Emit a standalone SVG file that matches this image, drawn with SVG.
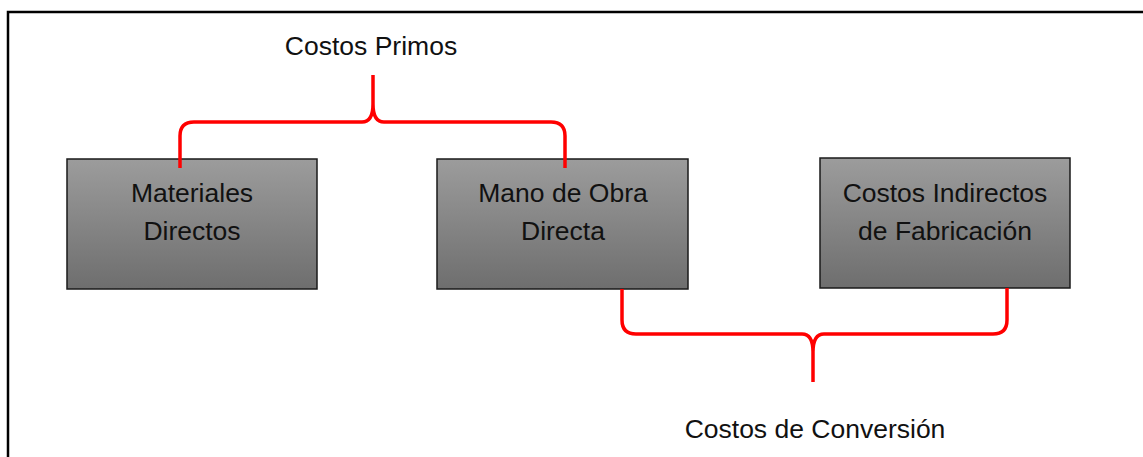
<svg xmlns="http://www.w3.org/2000/svg" width="1143" height="457" viewBox="0 0 1143 457">
  <defs>
    <linearGradient id="boxGrad" x1="0" y1="0" x2="0" y2="1">
      <stop offset="0" stop-color="#9c9c9c"/>
      <stop offset="1" stop-color="#6e6e6e"/>
    </linearGradient>
    <style>
      .box { fill: url(#boxGrad); stroke: #1a1a1a; stroke-width: 1.5; }
      .lbl { font-family: "Liberation Sans", Arial, sans-serif; font-size: 26.5px; fill: #111; text-anchor: middle; }
      .brace { fill: none; stroke: #ff0000; stroke-width: 3.5; stroke-linecap: butt; stroke-linejoin: round; }
    </style>
  </defs>
  <rect x="0" y="0" width="1143" height="457" fill="#ffffff"/>
  <rect x="8" y="12" width="1145" height="460" fill="none" stroke="#000" stroke-width="2.5"/>

  <g id="materiales-directos">
    <rect class="box" x="67" y="159" width="250" height="130"/>
    <text class="lbl" x="192" y="202">Materiales</text>
    <text class="lbl" x="192" y="240">Directos</text>
  </g>
  <g id="mano-de-obra-directa">
    <rect class="box" x="437" y="159" width="251" height="130"/>
    <text class="lbl" x="563" y="202">Mano de Obra</text>
    <text class="lbl" x="563" y="240">Directa</text>
  </g>
  <g id="costos-indirectos">
    <rect class="box" x="820" y="158" width="250" height="130"/>
    <text class="lbl" x="945" y="202">Costos Indirectos</text>
    <text class="lbl" x="945" y="240">de Fabricación</text>
  </g>

  <g id="connectors">
    <path class="brace" d="M180,168 V136 Q180,122 194,122 H362 Q373,122 373,104 V75 M373,104 Q373,122 384,122 H551 Q565,122 565,136 V168"/>
    <path class="brace" d="M622,289 V320 Q622,334 636,334 H802 Q813,334 813,352 V382 M813,352 Q813,334 824,334 H993 Q1007,334 1007,320 V288"/>
  </g>

  <g id="label-costos-primos">
    <text class="lbl" x="371" y="55">Costos Primos</text>
  </g>
  <g id="label-costos-conversion">
    <text class="lbl" x="815" y="438">Costos de Conversión</text>
  </g>
</svg>
